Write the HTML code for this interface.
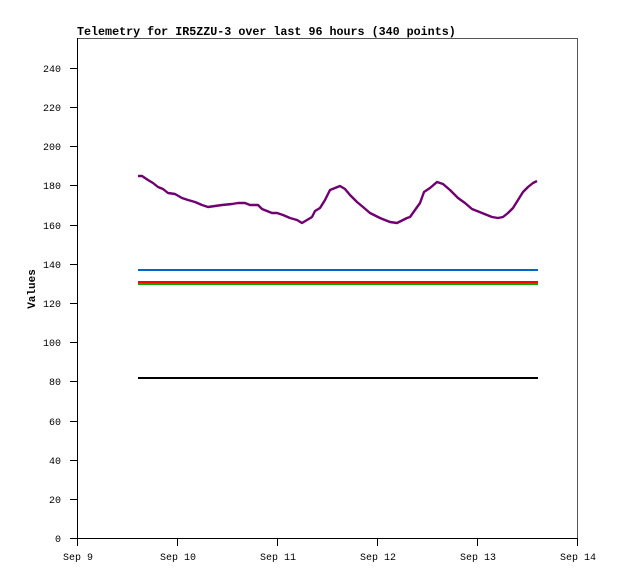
<!DOCTYPE html>
<html><head><meta charset="utf-8"><style>
html,body{margin:0;padding:0;background:#fff;}
svg{display:block;}
text{font-family:"Liberation Mono","DejaVu Sans Mono",monospace;fill:#000;}
</style></head><body>
<svg width="618" height="579" viewBox="0 0 618 579" xmlns="http://www.w3.org/2000/svg">
<rect width="618" height="579" fill="#fff"/>
<text x="77" y="35" font-size="11.7" font-weight="bold">Telemetry for IR5ZZU-3 over last 96 hours (340 points)</text>
<g shape-rendering="crispEdges" stroke-width="1">
<line x1="77" y1="38.5" x2="578" y2="38.5" stroke="#555"/>
<line x1="577.5" y1="38" x2="577.5" y2="538" stroke="#555"/>
<line x1="77.5" y1="38" x2="77.5" y2="539" stroke="#000"/>
<line x1="70" y1="538.5" x2="578" y2="538.5" stroke="#000"/>
<g stroke="#000">
<line x1="70" y1="499.5" x2="77" y2="499.5"/>
<line x1="70" y1="460.5" x2="77" y2="460.5"/>
<line x1="70" y1="421.5" x2="77" y2="421.5"/>
<line x1="70" y1="381.5" x2="77" y2="381.5"/>
<line x1="70" y1="342.5" x2="77" y2="342.5"/>
<line x1="70" y1="303.5" x2="77" y2="303.5"/>
<line x1="70" y1="264.5" x2="77" y2="264.5"/>
<line x1="70" y1="225.5" x2="77" y2="225.5"/>
<line x1="70" y1="185.5" x2="77" y2="185.5"/>
<line x1="70" y1="146.5" x2="77" y2="146.5"/>
<line x1="70" y1="107.5" x2="77" y2="107.5"/>
<line x1="70" y1="68.5" x2="77" y2="68.5"/>
<line x1="77.5" y1="538" x2="77.5" y2="546"/>
<line x1="177.5" y1="538" x2="177.5" y2="546"/>
<line x1="277.5" y1="538" x2="277.5" y2="546"/>
<line x1="377.5" y1="538" x2="377.5" y2="546"/>
<line x1="477.5" y1="538" x2="477.5" y2="546"/>
<line x1="577.5" y1="538" x2="577.5" y2="546"/>
</g>
</g>
<g font-size="10" text-anchor="end">
<text x="61" y="542">0</text>
<text x="61" y="503">20</text>
<text x="61" y="464">40</text>
<text x="61" y="425">60</text>
<text x="61" y="385">80</text>
<text x="61" y="346">100</text>
<text x="61" y="307">120</text>
<text x="61" y="268">140</text>
<text x="61" y="229">160</text>
<text x="61" y="189">180</text>
<text x="61" y="150">200</text>
<text x="61" y="111">220</text>
<text x="61" y="72">240</text>
</g>
<g font-size="10" text-anchor="middle">
<text x="78" y="560">Sep 9</text>
<text x="178" y="560">Sep 10</text>
<text x="278" y="560">Sep 11</text>
<text x="378" y="560">Sep 12</text>
<text x="478" y="560">Sep 13</text>
<text x="578" y="560">Sep 14</text>
</g>
<text transform="translate(35,289) rotate(-90)" font-size="11" font-weight="bold" text-anchor="middle">Values</text>
<g shape-rendering="crispEdges" stroke-width="2">
<line x1="138" y1="270" x2="538" y2="270" stroke="#0066cc"/>
<line x1="138" y1="282" x2="538" y2="282" stroke="#ff0000"/>
<line x1="138" y1="284" x2="538" y2="284" stroke="#00aa00"/>
<line x1="138" y1="378" x2="538" y2="378" stroke="#000"/>
</g>
<polyline fill="none" stroke="#700070" stroke-width="2.4" stroke-linejoin="round" points="
138,176 142,176 148,180 153,183 158,187 163,189 168,193 175,194 182,198 188,200 195,202 202,205 208,207 215,206 222,205 232,204 238,203 245,203 250,205 258,205 262,209 267,211 272,213
277,213 283,215 290,218 297,220 302,223 307,220 312,217 315,211 320,208 325,200 330,190 335,188 340,186 345,189 350,195 357,202 363,207 370,213 380,218 390,222 397,223 403,220 407,218
410,217 415,210 420,203 424,192 430,188 437,182 443,184 450,190 458,198 465,203 472,209 482,213 492,217 498,218 503,217 508,213 513,208 518,200 523,192 528,187 533,183 537,181"/>
</svg>
</body></html>
